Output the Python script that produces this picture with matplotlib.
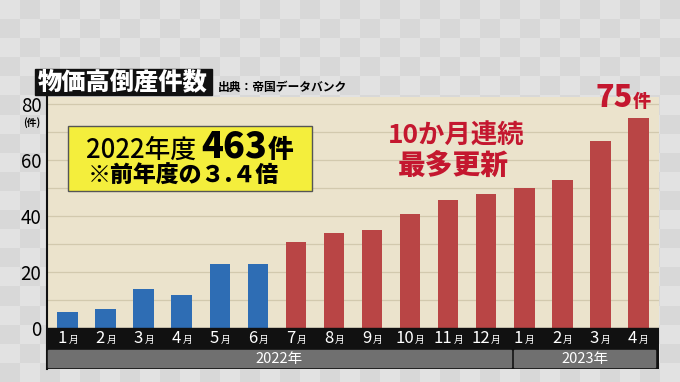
import numpy as np
import matplotlib.pyplot as plt
from matplotlib.colors import ListedColormap
from matplotlib.patches import Rectangle
from matplotlib.offsetbox import TextArea, HPacker, AnnotationBbox

plt.rcParams['font.family'] = ['Noto Sans CJK JP', 'DejaVu Sans']

months = ['1', '2', '3', '4', '5', '6', '7', '8', '9', '10', '11', '12', '1', '2', '3', '4']
counts = [6, 7, 14, 12, 23, 23, 31, 34, 35, 41, 46, 48, 50, 53, 67, 75]
n_blue = 6
years = ['2022年', '2023年']
year_spans = [(-0.53, 11.66), (11.74, 15.45)]
yticks = [0, 20, 40, 60, 80]

W, H = 680, 382
fig = plt.figure(figsize=(6.8, 3.82), dpi=100)

# checkered background
bg = fig.add_axes([0, 0, 1, 1], zorder=-10)
rows, cols = np.indices((20, 34))
bg.imshow((rows + cols) % 2, cmap=ListedColormap(['#e2e2e2', '#d8d8d8']),
          extent=[0, W, H, 0], aspect='auto', interpolation='nearest')
bg.set_xlim(0, W)
bg.set_ylim(H, 0)
bg.axis('off')


def px(x0, y0, x1, y1):
    return [x0 / W, 1 - y1 / H, (x1 - x0) / W, (y1 - y0) / H]


ax = fig.add_axes(px(47, 96.7, 659, 369))
ax.set_facecolor('#ebe3cc')
x = np.arange(len(counts))
colors = ['#2e6db4'] * n_blue + ['#b94545'] * (len(counts) - n_blue)
ax.bar(x, counts, width=0.55, color=colors, zorder=3)
ax.set_xlim(-0.55, 15.55)
ax.set_ylim(-14.5, 82.7)
for g in range(10, 90, 10):
    ax.axhline(g, color='#d2c9ae', lw=0.9, zorder=1)

# black band with month labels and grey year bands
ax.add_patch(Rectangle((-0.55, -14.5), 16.1, 14.5, color='#111111', zorder=4))
for (a, b), lab in zip(year_spans, years):
    ax.add_patch(Rectangle((a, -13.8), b - a, 6.05, color='#707070', zorder=5))
    ax.text((a + b) / 2, -10.8, lab, color='white', fontsize=10.5, ha='center',
            va='center', zorder=6)
for xi, m in zip(x, months):
    box = HPacker(children=[TextArea(m, textprops=dict(color='white', fontsize=12)),
                            TextArea('月', textprops=dict(color='white', fontsize=7))],
                  align='baseline', pad=0, sep=1)
    ax.add_artist(AnnotationBbox(box, (xi, -3.6), frameon=False, box_alignment=(0.5, 0.5),
                                 pad=0, zorder=6))

ax.set_xticks([])
ax.set_yticks(yticks)
ax.set_yticklabels([str(v) for v in yticks], fontsize=13.5)
ax.tick_params(axis='y', length=0, pad=4)
for s in ['top', 'right', 'bottom']:
    ax.spines[s].set_visible(False)
ax.spines['left'].set_color('#111111')
ax.spines['left'].set_linewidth(1.5)
fig.text(32 / W, 1 - 123 / H, '(件)', fontsize=7, fontweight='bold', ha='center', va='center')

# title
fig.add_artist(Rectangle((35 / W, 1 - 95 / H), 177 / W, 26 / H, color='#111111',
                         transform=fig.transFigure))
fig.text(123 / W, 1 - 82 / H, '物価高倒産件数', color='white', fontsize=17.5,
         fontweight='black', ha='center', va='center')
fig.text(218 / W, 1 - 87 / H, '出典：帝国データバンク', fontsize=8.5,
         fontweight='bold', ha='left', va='center')

# yellow box
ax.add_patch(Rectangle((0, 49.0), 6.42, 23.3, facecolor='#f4ee3c', edgecolor='#555555',
                       lw=1, zorder=7))
line1 = HPacker(children=[TextArea('2022年度 ', textprops=dict(fontsize=18.5, fontweight='medium')),
                          TextArea('463', textprops=dict(fontsize=26, fontweight='black')),
                          TextArea('件', textprops=dict(fontsize=18.5, fontweight='black'))],
                align='baseline', pad=0, sep=0)
ax.add_artist(AnnotationBbox(line1, (3.2, 64.9), frameon=False, box_alignment=(0.5, 0.5),
                             pad=0, zorder=8))
ax.text(3.05, 54.2, '※前年度の３.４倍', fontsize=16.5, fontweight='black', ha='center',
        va='center', zorder=8)

# red annotations
red = '#c4172f'
ax.text(10.2, 68.7, '10か月連続', color=red, fontsize=19, fontweight='bold',
        ha='center', va='center', zorder=8)
ax.text(10.15, 58.0, '最多更新', color=red, fontsize=20, fontweight='black',
        ha='center', va='center', zorder=8)
top = HPacker(children=[TextArea(str(counts[-1]), textprops=dict(color=red, fontsize=22, fontweight='black')),
                        TextArea('件', textprops=dict(color=red, fontsize=13, fontweight='black'))],
              align='baseline', pad=0, sep=0)
ax.add_artist(AnnotationBbox(top, (14.6, 82.4), frameon=False, box_alignment=(0.5, 0.5),
                             pad=0, zorder=8, annotation_clip=False))

fig.savefig('out.png', dpi=100)
